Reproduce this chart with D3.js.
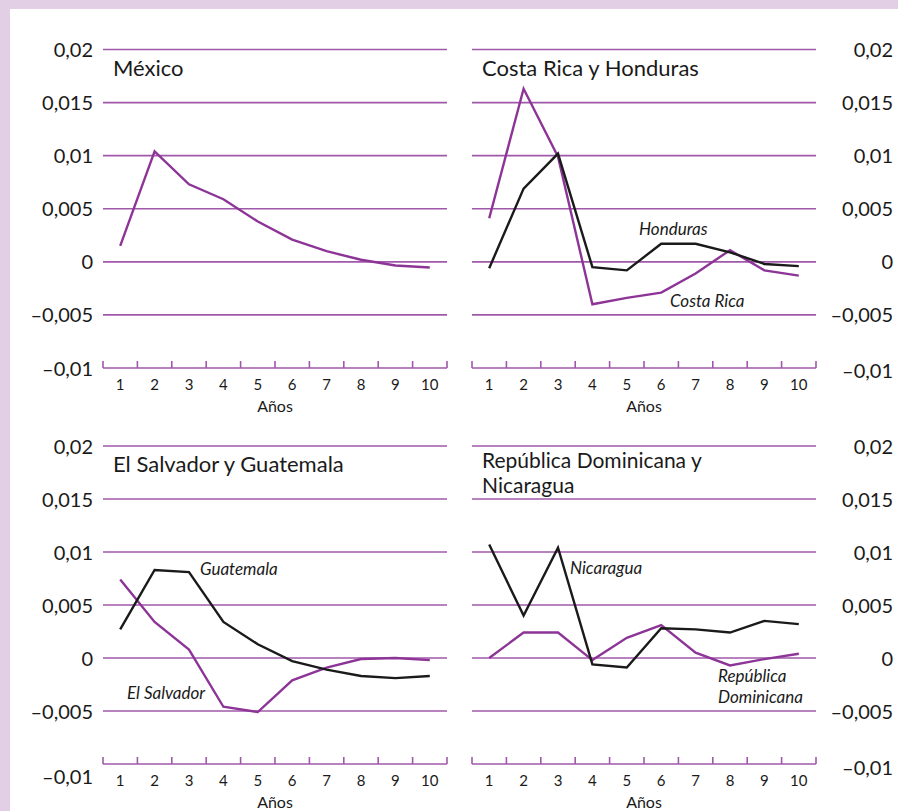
<!DOCTYPE html>
<html>
<head>
<meta charset="utf-8">
<script src="https://cdn.jsdelivr.net/npm/d3@7/dist/d3.min.js"></script>
<style>
  html, body { margin: 0; padding: 0; background: #ffffff; }
  svg { display: block; }
  text { font-family: Lato, "Open Sans", sans-serif; fill: #1a1a1a; }
</style>
</head>
<body>
<svg id="chart" width="898" height="811"></svg>
<script>
// Years on the horizontal axis
const years = [1, 2, 3, 4, 5, 6, 7, 8, 9, 10];
// Vertical tick values
const yTicks = [-0.01, -0.005, 0, 0.005, 0.01, 0.015, 0.02];

// Responses by country
const mexico      = [0.0015, 0.0104, 0.0073, 0.0059, 0.0038, 0.0021, 0.0010, 0.0002, -0.00035, -0.00053];
const costaRica   = [0.0041, 0.0163, 0.0099, -0.0040, -0.0034, -0.0029, -0.0011, 0.0011, -0.0008, -0.0013];
const honduras    = [-0.0006, 0.0069, 0.0102, -0.0005, -0.0008, 0.0017, 0.0017, 0.0009, -0.0002, -0.0004];
const elSalvador  = [0.0074, 0.0034, 0.0008, -0.0046, -0.0051, -0.0021, -0.0009, -0.0001, 0.0000, -0.0002];
const guatemala   = [0.0027, 0.0083, 0.0081, 0.0034, 0.0013, -0.0003, -0.0011, -0.0017, -0.0019, -0.0017];
const repDom      = [0.0000, 0.0024, 0.0024, -0.0002, 0.0019, 0.0031, 0.0005, -0.0007, -0.0001, 0.0004];
const nicaragua   = [0.0107, 0.0040, 0.0104, -0.0006, -0.0009, 0.0028, 0.0027, 0.0024, 0.0035, 0.0032];

const PURPLE = "#8d3597";
const GRID = "#a059aa";
const BLACK = "#1a1a1a";

const svg = d3.select("#chart");

// Lavender frame along the top and left edges
svg.append("rect").attr("x", 0).attr("y", 0).attr("width", 898).attr("height", 9).attr("fill", "#e2cfe5");
svg.append("rect").attr("x", 0).attr("y", 0).attr("width", 10).attr("height", 811).attr("fill", "#e2cfe5");

const fmt = v => {
  if (v === 0) return "0";
  let s = String(+v.toFixed(3)).replace(".", ",");
  return s.replace("-", "\u2013");
};

function panel(cfg) {
  const x = d3.scaleBand().domain(years).range([cfg.x0, cfg.x1]).paddingInner(0).paddingOuter(0);
  const y = d3.scaleLinear().domain([-0.01, 0.02]).range([cfg.yBottom, cfg.yTop]);
  const g = svg.append("g");
  const cx = d => x(d) + x.bandwidth() / 2;

  // horizontal grid lines
  g.selectAll(".grid").data(yTicks.filter(t => t > -0.01)).join("line")
    .attr("x1", cfg.x0).attr("x2", cfg.x1)
    .attr("y1", d => y(d)).attr("y2", d => y(d))
    .attr("stroke", GRID).attr("stroke-width", 1.6);

  // bottom axis: base line with ticks at band edges
  g.append("line").attr("x1", cfg.x0).attr("x2", cfg.x1)
    .attr("y1", y(-0.01)).attr("y2", y(-0.01))
    .attr("stroke", GRID).attr("stroke-width", 1.6);
  const edges = years.map(d => x(d)).concat([cfg.x1]);
  g.selectAll(".tk").data(edges).join("line")
    .attr("x1", d => d).attr("x2", d => d)
    .attr("y1", y(-0.01)).attr("y2", y(-0.01) - 7)
    .attr("stroke", GRID).attr("stroke-width", 1.6);

  // year labels
  const xAxis = g.append("g").attr("transform", `translate(0,${y(-0.01)})`)
    .call(d3.axisBottom(x).tickSize(0).tickPadding(0));
  xAxis.select(".domain").remove();
  xAxis.selectAll("text").attr("font-size", 15).attr("font-family", "Lato, sans-serif")
    .attr("fill", "#1a1a1a").attr("dy", null).attr("y", 22);

  g.append("text").attr("x", (cfg.x0 + cfg.x1) / 2).attr("y", y(-0.01) + 44)
    .attr("text-anchor", "middle").attr("font-size", 16).text("Años");

  // vertical value labels
  const yAxisGen = cfg.side === "left" ? d3.axisLeft(y) : d3.axisRight(y);
  yAxisGen.tickValues(yTicks).tickFormat(fmt).tickSize(0).tickPadding(0);
  const yAxis = g.append("g").attr("transform", `translate(${cfg.labelX},0)`).call(yAxisGen);
  yAxis.select(".domain").remove();
  yAxis.selectAll("text").attr("font-size", 20).attr("font-family", "Lato, sans-serif")
    .attr("fill", "#1a1a1a").attr("text-anchor", "end").attr("x", 0)
    .attr("dy", d => (d === -0.01 ? cfg.lowDy : 0) + 7 + "px");

  // title
  cfg.title.forEach((t, i) => {
    g.append("text").attr("x", cfg.x0 + 10).attr("y", cfg.titleY + i * 25)
      .attr("font-size", cfg.title.length > 1 ? 21 : 22).text(t);
  });

  // series
  const line = d3.line().x((d, i) => cx(years[i])).y(d => y(d));
  cfg.series.forEach(s => {
    g.append("path").datum(s.values).attr("d", line)
      .attr("fill", "none").attr("stroke", s.color).attr("stroke-width", 2.4)
      .attr("stroke-linejoin", "miter");
  });

  // in-plot series names
  (cfg.notes || []).forEach(n => {
    n.lines.forEach((t, i) => {
      g.append("text").attr("x", n.x).attr("y", n.y + i * 21)
        .attr("font-size", 17).attr("font-style", "italic").text(t);
    });
  });
}

panel({
  x0: 103, x1: 447, yTop: 49.5, yBottom: 368, side: "left", labelX: 93, lowDy: 0,
  title: ["México"], titleY: 75.5,
  series: [{ values: mexico, color: PURPLE }]
});

panel({
  x0: 472, x1: 816, yTop: 49.5, yBottom: 368, side: "right", labelX: 893, lowDy: 2,
  title: ["Costa Rica y Honduras"], titleY: 75.5,
  series: [{ values: costaRica, color: PURPLE }, { values: honduras, color: BLACK }],
  notes: [{ x: 639, y: 235, lines: ["Honduras"] }, { x: 670, y: 306.5, lines: ["Costa Rica"] }]
});

panel({
  x0: 103, x1: 447, yTop: 446, yBottom: 764, side: "left", labelX: 93, lowDy: 12,
  title: ["El Salvador y Guatemala"], titleY: 471.5,
  series: [{ values: elSalvador, color: PURPLE }, { values: guatemala, color: BLACK }],
  notes: [{ x: 200, y: 575, lines: ["Guatemala"] }, { x: 127, y: 699, lines: ["El Salvador"] }]
});

panel({
  x0: 472, x1: 816, yTop: 446, yBottom: 764, side: "right", labelX: 893, lowDy: 3,
  title: ["República Dominicana y", "Nicaragua"], titleY: 468,
  series: [{ values: repDom, color: PURPLE }, { values: nicaragua, color: BLACK }],
  notes: [{ x: 570, y: 574, lines: ["Nicaragua"] }, { x: 718, y: 682, lines: ["República", "Dominicana"] }]
});
</script>
</body>
</html>
